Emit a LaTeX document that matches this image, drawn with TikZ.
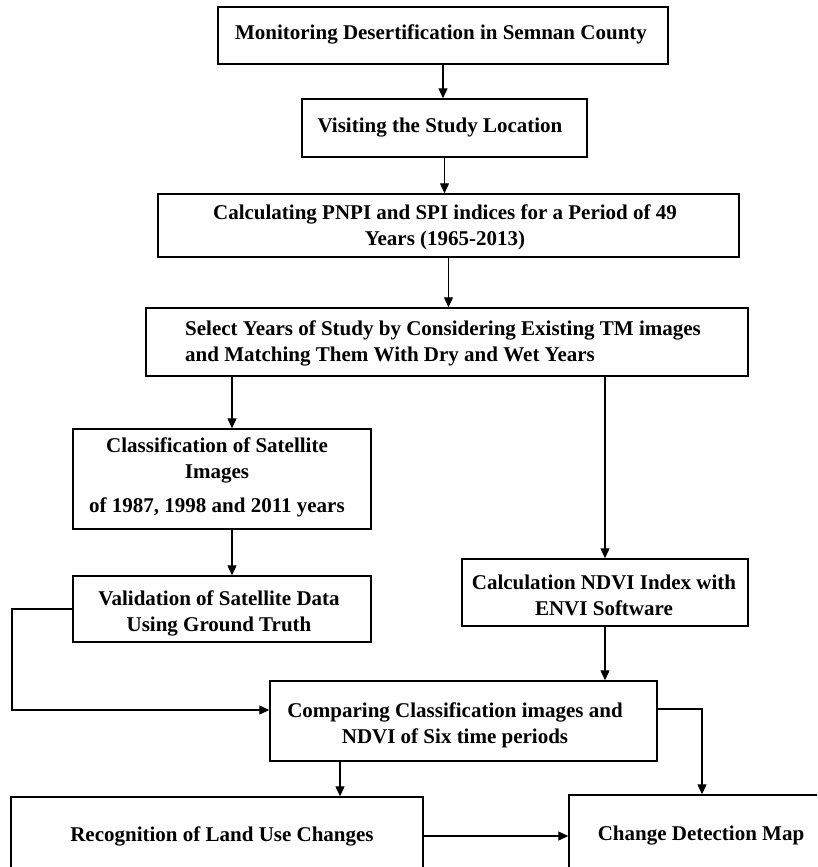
\documentclass[tikz,border=0pt]{standalone}
\usepackage{fontspec}
\setmainfont{Liberation Serif}
\usetikzlibrary{arrows.meta}
\begin{document}
\begin{tikzpicture}[x=1pt,y=-1pt,
  box/.style={draw,line width=1.5pt,rectangle,inner sep=0pt},
  txt/.style={font=\fontsize{21}{26}\selectfont\bfseries,inner sep=0pt},
  arr/.style={line width=1.4pt,-{Triangle[length=10pt,width=9pt]}}]
\useasboundingbox (0,0) rectangle (817,867);
\clip (0,0) rectangle (817,867);
\fill[white] (0,0) rectangle (817,867);
% boxes
\node[box,minimum width=450pt,minimum height=57pt] (b1) at (443,35.5) {};
\node[box,minimum width=285pt,minimum height=58pt] (b2) at (444.5,128) {};
\node[box,minimum width=581pt,minimum height=63pt] (b3) at (448.5,225.5) {};
\node[box,minimum width=602pt,minimum height=68pt] (b4) at (447,342) {};
\node[box,minimum width=298pt,minimum height=100pt] (b5) at (222,479) {};
\node[box,minimum width=298pt,minimum height=66pt] (b6) at (222,609) {};
\node[box,minimum width=286pt,minimum height=67pt] (b7) at (605,592.5) {};
\node[box,minimum width=387pt,minimum height=80pt] (b8) at (463.5,721) {};
\node[box,minimum width=412pt,minimum height=78pt] (b9) at (217,836) {};
\node[box,minimum width=271pt,minimum height=82pt] (b10) at (704.5,836) {};
% texts
\node[txt] (t1) at (441,34) {Monitoring Desertification in Semnan County};
\node[txt] (t2) at (440,128) {Visiting the Study Location};
\node[txt,align=center] (t3) at (445,227) {Calculating PNPI and SPI indices for a Period of 49\\Years (1965-2013)};
\node[txt,align=left,anchor=west] (t4) at (185,343) {Select Years of Study by Considering Existing TM images\\and Matching Them With Dry and Wet Years};
\node[txt,align=center] (t5) at (217,477) {Classification of Satellite\\Images\\[8pt]of 1987, 1998 and 2011 years};
\node[txt,align=center] (t6) at (219,613) {Validation of Satellite Data\\Using Ground Truth};
\node[txt,align=center] (t7) at (604,595) {Calculation NDVI Index with\\ENVI Software};
\node[txt,align=center] (t8) at (455,725) {Comparing Classification images and\\NDVI of Six time periods};
\node[txt] (t9) at (222,836) {Recognition of Land Use Changes};
\node[txt] (t10) at (701,836) {Change Detection Map};
% connectors
\coordinate (L) at (12,0);
\coordinate (R) at (702,0);
\coordinate (D) at (340,0);
\draw[arr] (b1.south) -- (b1.south |- b2.north);
\draw[arr] (b2.south) -- (b2.south |- b3.north);
\draw[arr] (b3.south) -- (b3.south |- b4.north);
\draw[arr] ([xshift=10pt]b5.north |- b4.south) -- ([xshift=10pt]b5.north);
\draw[arr] (b7.north |- b4.south) -- (b7.north);
\draw[arr] ([xshift=10pt]b5.south) -- ([xshift=10pt]b6.north);
\draw[arr] (b7.south) -- (b7.south |- b8.north);
\draw[arr] (b6.west) -- (b6.west -| L) |- ([yshift=11pt]b8.west);
\draw[arr] ([yshift=12pt]b8.east) -| (R |- b10.north);
\draw[arr] (D |- b8.south) -- (D |- b9.north);
\draw[arr] (b9.east) -- (b10.west);
\end{tikzpicture}
\end{document}
